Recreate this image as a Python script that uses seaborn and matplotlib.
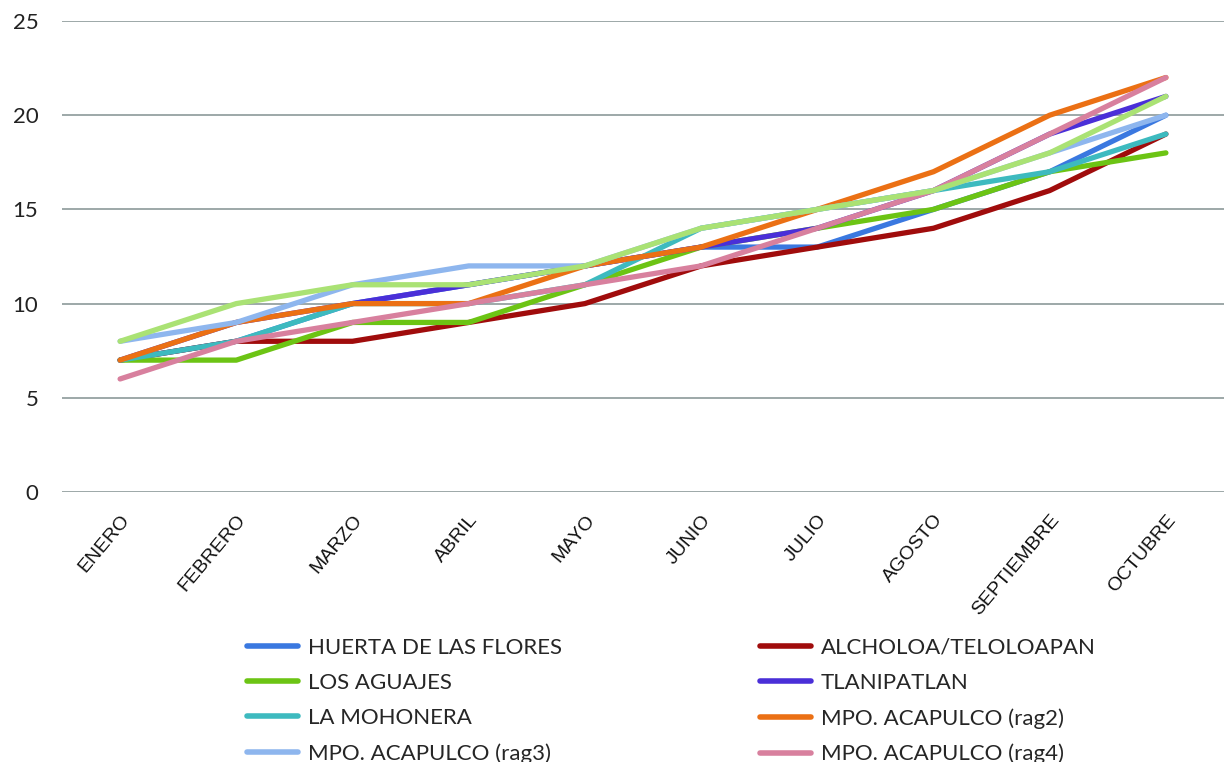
import numpy as np
import pandas as pd
import matplotlib
matplotlib.use('Agg')
import matplotlib.pyplot as plt
import seaborn as sns
from matplotlib.lines import Line2D

# ---------------------------------------------------------------------------
# datos
# ---------------------------------------------------------------------------
meses = ['ENERO', 'FEBRERO', 'MARZO', 'ABRIL', 'MAYO', 'JUNIO',
         'JULIO', 'AGOSTO', 'SEPTIEMBRE', 'OCTUBRE']

huerta = [7, 8, 10, 11, 12, 13, 13, 15, 17, 20]
alcholoa = [7, 8, 8, 9, 10, 12, 13, 14, 16, 19]
aguajes = [7, 7, 9, 9, 11, 13, 14, 15, 17, 18]
tlanipatlan = [7, 9, 10, 11, 12, 13, 14, 16, 19, 21]
mohonera = [7, 8, 10, 10, 11, 14, 15, 16, 17, 19]
rag2 = [7, 9, 10, 10, 12, 13, 15, 17, 20, 22]
rag3 = [8, 9, 11, 12, 12, 14, 15, 16, 18, 20]
rag4 = [6, 8, 9, 10, 11, 12, 14, 16, 19, 22]
rag5 = [8, 10, 11, 11, 12, 14, 15, 16, 18, 21]  # serie sin leyenda visible

series = [
    ('HUERTA DE LAS FLORES', huerta, '#3A78E0'),
    ('ALCHOLOA/TELOLOAPAN', alcholoa, '#A00C0C'),
    ('LOS AGUAJES', aguajes, '#6CC414'),
    ('TLANIPATLAN', tlanipatlan, '#4A2FD8'),
    ('LA MOHONERA', mohonera, '#3DBABF'),
    ('MPO. ACAPULCO (rag2)', rag2, '#EB7014'),
    ('MPO. ACAPULCO (rag3)', rag3, '#8EB6EE'),
    ('MPO. ACAPULCO (rag4)', rag4, '#D8809E'),
    ('_rag5', rag5, '#AAE274'),
]

sns.set_style('white')
plt.rcParams['font.family'] = ['Lato', 'DejaVu Sans']

W, H = 1224, 762
fig = plt.figure(figsize=(W / 100, H / 100), dpi=100)
ax = fig.add_axes([62 / W, 1 - 492 / H, 1162 / W, 471 / H])

x = np.arange(len(meses))
for nombre, vals, col in series:
    sns.lineplot(x=x, y=vals, color=col, linewidth=3.8, ax=ax,
                 solid_capstyle='round', solid_joinstyle='round',
                 legend=False)

ax.set_xlim(-0.5, len(meses) - 0.5)
ax.set_ylim(0, 25)
ax.set_yticks(range(0, 26, 5))
ax.yaxis.grid(True, color='#8C9A9A', linewidth=1.2)
ax.set_axisbelow(True)
for s in ax.spines.values():
    s.set_visible(False)

ax.tick_params(axis='y', length=0, pad=17, labelsize=16, labelcolor='#222222')
ax.set_xticks(x)
ax.set_xticklabels(meses, rotation=50, ha='right', rotation_mode='anchor',
                   family=['Liberation Sans', 'DejaVu Sans'], fontsize=14,
                   color='#111111')
ax.tick_params(axis='x', length=0, pad=14)
ax.set_xlabel('')
ax.set_ylabel('')

# leyenda en 2 columnas, llenada por filas
visibles = [(n, c) for n, v, c in series if not n.startswith('_')]
orden = visibles[0::2] + visibles[1::2]
handles = [Line2D([0], [0], color=c, lw=4, solid_capstyle='round') for n, c in orden]
labels = [n for n, c in orden]
fig.legend(handles, labels, ncol=2, loc='upper left',
           bbox_to_anchor=(238 / W, 1 - 629 / H), frameon=False,
           fontsize=16, handlelength=2.3, handletextpad=0.45,
           columnspacing=8.9, labelspacing=0.68, borderaxespad=0)

fig.savefig('out.png', dpi=100, facecolor='white')
